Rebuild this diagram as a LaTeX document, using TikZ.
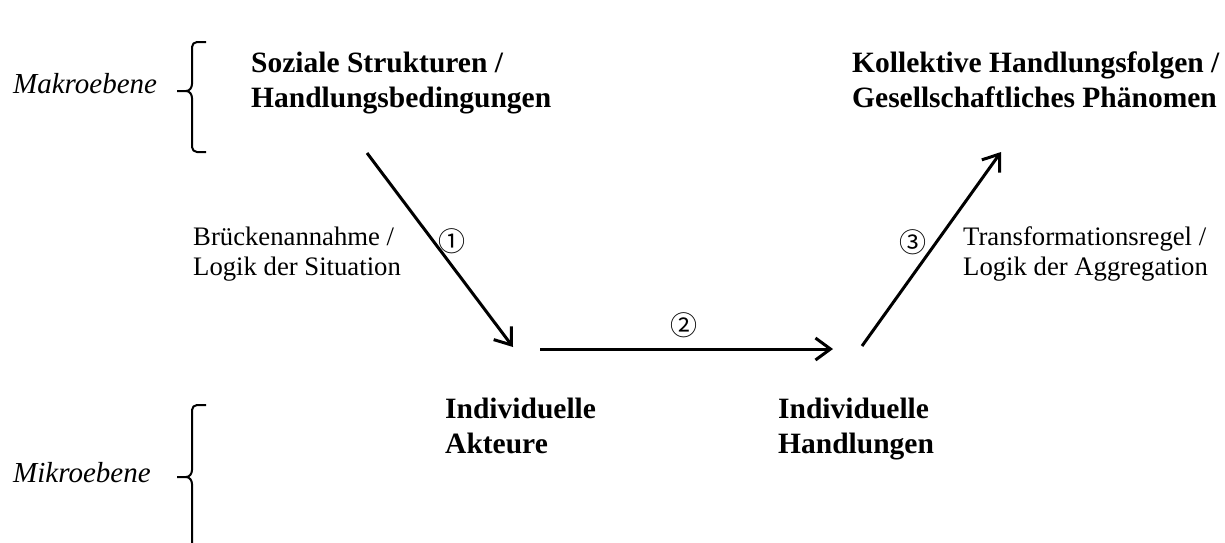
\documentclass[tikz,border=0pt]{standalone}
\usepackage{fontspec}
\setmainfont{Liberation Serif}
\newfontfamily\circfont{Noto Sans CJK JP}
\usetikzlibrary{arrows.meta}
\begin{document}
\begin{tikzpicture}[x=1pt,y=-1pt,
  txt/.style={inner sep=0pt,anchor=base west,align=left,font=\fontsize{26.7}{30}\selectfont},
  bold/.style={txt,font=\fontsize{29.5}{34.5}\selectfont\bfseries},
  lvl/.style={txt,font=\fontsize{29}{34}\selectfont\itshape},
  num/.style={inner sep=0pt,font=\circfont\fontsize{27}{27}\selectfont},
  arr/.style={line width=3pt,-{Straight Barb[length=15pt,width=22pt,line width=3pt]}},
  brace/.style={line width=2pt,line join=round}]
\useasboundingbox (0,0) rectangle (1225,542);
% level labels
\node[lvl] (makro) at (13,93) {Makroebene};
\node[lvl] (mikro) at (13,482) {Mikroebene};
% braces
\draw[brace] (206,42) -- (197,42) to[out=180,in=90] (192,47) -- (192,84) to[out=-90,in=0] (186,91) -- (177,91);
\draw[brace] (186,91) to[out=0,in=90] (192,98) -- (192,147) to[out=-90,in=180] (197,152) -- (206,152);
\draw[brace] (206,405) -- (197,405) to[out=180,in=90] (192,410) -- (192,470) to[out=-90,in=0] (186,477) -- (177,477);
\draw[brace] (186,477) to[out=0,in=90] (192,484) -- (192,545);
% main nodes (anchor = baseline of last line)
\node[bold] (soz) at (251,107) {Soziale Strukturen /\\Handlungsbedingungen};
\node[bold] (koll) at (852,107) {Kollektive Handlungsfolgen /\\Gesellschaftliches Phänomen};
\node[bold] (akt) at (445,453) {Individuelle\\Akteure};
\node[bold] (hand) at (778,453) {Individuelle\\Handlungen};
% side labels
\node[txt] (bruecke) at (193,275) {Brückenannahme /\\Logik der Situation};
\node[txt] (trans) at (963,275) {Transformationsregel /\\Logik der Aggregation};
% arrow endpoints
\coordinate (a1s) at (367,153);
\coordinate (a1e) at (513,347);
\coordinate (a2s) at (540,349);
\coordinate (a2e) at (833,349);
\coordinate (a3s) at (862,346);
\coordinate (a3e) at (1001,152);
\draw[arr] (a1s) -- (a1e);
\draw[arr] (a2s) -- (a2e);
\draw[arr] (a3s) -- (a3e);
% numbers
\node[num] (n1) at (452,241) {①};
\node[num] (n2) at (684,325) {②};
\node[num] (n3) at (913,242) {③};
\end{tikzpicture}
\end{document}
